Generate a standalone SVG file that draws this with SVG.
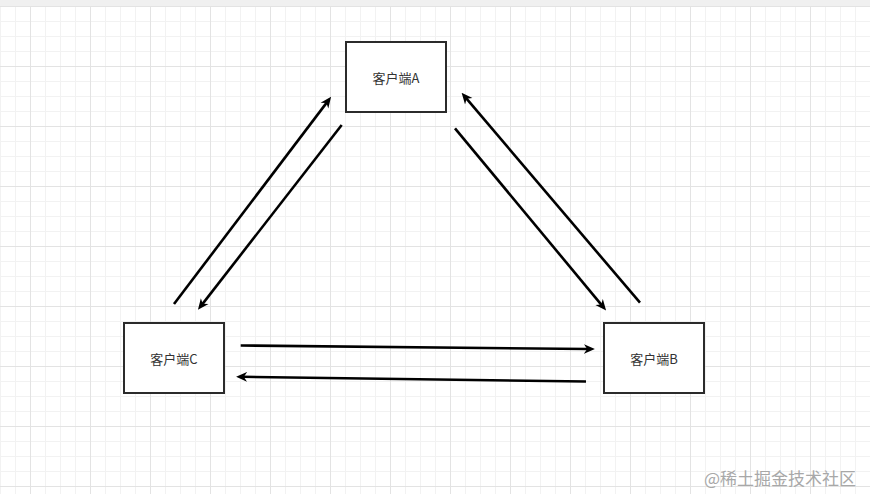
<svg xmlns="http://www.w3.org/2000/svg" width="870" height="494" viewBox="0 0 870 494">
<style>
.node rect{fill:#ffffff;stroke:#2b2b2b;stroke-width:2}
.node text{font-family:"Noto Sans CJK SC","Liberation Sans",sans-serif;font-size:13px;fill:#333333;text-anchor:middle;dominant-baseline:central}
.edge{stroke:#000000;stroke-width:2.6;fill:none;marker-end:url(#arrow)}
.minor{stroke:#f2f2f2;stroke-width:1}
.major{stroke:#e3e3e3;stroke-width:1}
</style>
<defs>
<marker id="arrow" viewBox="0 0 10 10" refX="4" refY="5" markerWidth="11" markerHeight="11" markerUnits="userSpaceOnUse" orient="auto">
<path d="M10,5 L0,0.6 L3,5 L0,9.4 Z" fill="#000000"/>
</marker>
<pattern id="grid" x="0" y="6" width="60" height="60" patternUnits="userSpaceOnUse">
<path class="minor" d="M0.5,0 V60 M15.5,0 V60 M45.5,0 V60 M0,15.5 H60 M0,30.5 H60 M0,45.5 H60"/>
<path class="major" d="M30.5,0 V60 M0,0.5 H60"/>
</pattern>
</defs>
<rect x="0" y="0" width="870" height="494" fill="#ffffff"/>
<rect x="0" y="6" width="870" height="488" fill="url(#grid)"/>
<rect x="0" y="0" width="870" height="6" fill="#f0f0f0"/>
<g id="connectors">
<line class="edge" x1="174" y1="304" x2="327.1" y2="102.1"/>
<line class="edge" x1="341.7" y1="125" x2="202" y2="304.6"/>
<line class="edge" x1="640" y1="302.7" x2="465.9" y2="97.9"/>
<line class="edge" x1="455" y1="128.3" x2="601.9" y2="305.4"/>
<line class="edge" x1="240.7" y1="345.5" x2="588.3" y2="349"/>
<line class="edge" x1="586" y1="381.5" x2="242.7" y2="376.8"/>
</g>
<g id="nodeA" class="node">
<rect x="346" y="42" width="100" height="70"/>
<text x="396" y="77">客户端A</text>
</g>
<g id="nodeB" class="node">
<rect x="604" y="323" width="100" height="70"/>
<text x="654" y="358">客户端B</text>
</g>
<g id="nodeC" class="node">
<rect x="124" y="323" width="100" height="70"/>
<text x="174" y="358">客户端C</text>
</g>
<text x="704" y="485" font-family="Noto Sans CJK SC, Liberation Sans, sans-serif" font-size="17" fill="#a8a8a8">@稀土掘金技术社区</text>
</svg>
